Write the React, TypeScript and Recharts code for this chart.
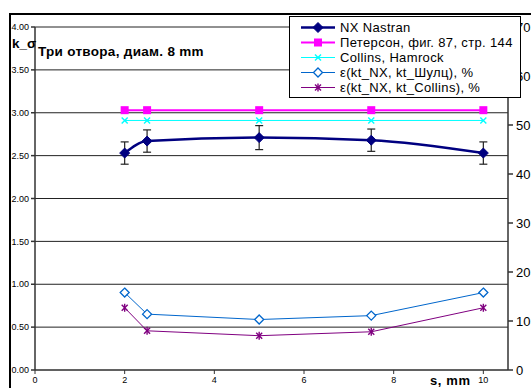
import React from "react";
import {
  ComposedChart,
  Line,
  XAxis,
  YAxis,
  CartesianGrid,
  ErrorBar,
  Legend,
} from "recharts";

// s, mm – hole spacing
const S_MM = [2, 2.5, 5, 7.5, 10];
// k_sigma values (left axis)
const NX_NASTRAN = [2.53, 2.67, 2.71, 2.68, 2.53];
const NX_ERR = [0.13, 0.13, 0.14, 0.13, 0.13];
const PETERSON = [3.03, 3.03, 3.03, 3.03, 3.03];
const COLLINS = [2.91, 2.91, 2.91, 2.91, 2.91];
// errors in % (right axis)
const EPS_SHULTS = [15.8, 11.4, 10.3, 11.1, 15.8];
const EPS_COLLINS = [12.7, 8.0, 7.0, 7.8, 12.7];

const X_TICKS = [0, 2, 4, 6, 8, 10];
const LEFT_TICKS = [0, 0.5, 1, 1.5, 2, 2.5, 3, 3.5, 4];
const RIGHT_TICKS = [0, 10, 20, 30, 40, 50, 60, 70];

const FONT = "'Liberation Sans', Arial, sans-serif";

const C = {
  nx: "#000080",
  pet: "#FF00FF",
  col: "#00FFFF",
  shul: "#0066CC",
  colEps: "#800080",
};

const data = S_MM.map((s, i) => ({
  s,
  nx: NX_NASTRAN[i],
  nxErr: NX_ERR[i],
  pet: PETERSON[i],
  col: COLLINS[i],
  shul: EPS_SHULTS[i],
  colEps: EPS_COLLINS[i],
}));

type Mark = (cx: number, cy: number, key?: string) => React.ReactElement;

const diamond: Mark = (cx, cy, key) => (
  <polygon
    key={key}
    points={`${cx},${cy - 5} ${cx + 5},${cy} ${cx},${cy + 5} ${cx - 5},${cy}`}
    fill={C.nx}
    stroke={C.nx}
  />
);
const square: Mark = (cx, cy, key) => (
  <rect key={key} x={cx - 4} y={cy - 4} width={8} height={8} fill={C.pet} />
);
const cross: Mark = (cx, cy, key) => (
  <g key={key} stroke={C.col} strokeWidth={1.4}>
    <line x1={cx - 3} y1={cy - 3} x2={cx + 3} y2={cy + 3} />
    <line x1={cx - 3} y1={cy + 3} x2={cx + 3} y2={cy - 3} />
  </g>
);
const openDiamond: Mark = (cx, cy, key) => (
  <polygon
    key={key}
    points={`${cx},${cy - 4.5} ${cx + 4.5},${cy} ${cx},${cy + 4.5} ${cx - 4.5},${cy}`}
    fill="#fff"
    stroke={C.shul}
    strokeWidth={1.3}
  />
);
const star: Mark = (cx, cy, key) => (
  <g key={key} stroke={C.colEps} strokeWidth={1.4}>
    <line x1={cx - 3} y1={cy - 3} x2={cx + 3} y2={cy + 3} />
    <line x1={cx - 3} y1={cy + 3} x2={cx + 3} y2={cy - 3} />
    <line x1={cx} y1={cy - 4} x2={cx} y2={cy + 4} />
  </g>
);

const dot = (m: Mark) => (p: any) => m(p.cx, p.cy, `d-${p.index}`);

const LEGEND_ROWS = [
  { label: "NX Nastran", color: C.nx, width: 2.5, mark: diamond },
  { label: "Петерсон, фиг. 87, стр. 144", color: C.pet, width: 2, mark: square },
  { label: "Collins, Hamrock", color: C.col, width: 1, mark: cross },
  { label: "ε(kt_NX, kt_Шулц), %", color: C.shul, width: 1, mark: openDiamond },
  { label: "ε(kt_NX, kt_Collins), %", color: C.colEps, width: 1, mark: star },
];

function LegendBox() {
  return (
    <div
      style={{
        width: 232,
        height: 82,
        border: "1px solid #000",
        background: "#fff",
        fontFamily: FONT,
        fontSize: 13,
        letterSpacing: 0.35,
        paddingTop: 3,
        boxSizing: "border-box",
      }}
    >
      {LEGEND_ROWS.map((r) => (
        <div
          key={r.label}
          style={{ display: "flex", alignItems: "center", height: 15 }}
        >
          <svg width={50} height={15} style={{ flex: "none" }}>
            <line x1={11} y1={7.5} x2={45} y2={7.5} stroke={r.color} strokeWidth={r.width} />
            {r.mark(28, 7.5)}
          </svg>
          <span style={{ whiteSpace: "nowrap" }}>{r.label}</span>
        </div>
      ))}
    </div>
  );
}

export default function App() {
  return (
    <div
      style={{
        position: "absolute",
        left: 0,
        top: 0,
        width: 531,
        height: 388,
        overflow: "hidden",
        background: "#fff",
      }}
    >
      <div
        style={{
          position: "absolute",
          left: 9,
          top: 13,
          width: 600,
          height: 400,
          borderTop: "2px solid #000",
          borderLeft: "2px solid #000",
        }}
      />
      <ComposedChart
        width={531}
        height={388}
        data={data}
        margin={{ top: 27, right: 0, bottom: 0, left: 0 }}
        style={{ position: "absolute", left: 0, top: 0 }}
      >
        <CartesianGrid yAxisId="left" vertical={false} stroke="#222" strokeWidth={1} />
        <XAxis
          dataKey="s"
          type="number"
          domain={[0, 10.55]}
          ticks={X_TICKS}
          height={18}
          tickSize={4}
          tickMargin={3}
          stroke="#333"
          tick={{ fontSize: 9, fill: "#000", fontFamily: FONT }}
        />
        <YAxis
          yAxisId="left"
          width={35}
          domain={[0, 4]}
          ticks={LEFT_TICKS}
          tickFormatter={(v: number) => v.toFixed(2)}
          tickSize={4}
          tickMargin={2}
          stroke="#333"
          strokeWidth={1.5}
          tick={{ fontSize: 9, fill: "#000", fontFamily: FONT }}
        />
        <YAxis
          yAxisId="right"
          orientation="right"
          width={23}
          domain={[0, 70]}
          ticks={RIGHT_TICKS}
          tickSize={5}
          tickMargin={3}
          stroke="#333"
          strokeWidth={1.5}
          tick={{ fontSize: 13, fill: "#000", fontFamily: FONT, textAnchor: "start" }}
        />
        <Legend
          layout="vertical"
          align="center"
          verticalAlign="middle"
          content={() => <LegendBox />}
          wrapperStyle={{ position: "absolute", left: 289, top: 16, width: 232, height: 82 }}
        />
        <Line
          yAxisId="left"
          dataKey="pet"
          stroke={C.pet}
          strokeWidth={2}
          dot={dot(square)}
          isAnimationActive={false}
        />
        <Line
          yAxisId="left"
          dataKey="col"
          stroke={C.col}
          strokeWidth={1}
          dot={dot(cross)}
          isAnimationActive={false}
        />
        <Line
          yAxisId="right"
          dataKey="shul"
          stroke={C.shul}
          strokeWidth={1}
          dot={dot(openDiamond)}
          isAnimationActive={false}
        />
        <Line
          yAxisId="right"
          dataKey="colEps"
          stroke={C.colEps}
          strokeWidth={1}
          dot={dot(star)}
          isAnimationActive={false}
        />
        <Line
          yAxisId="left"
          type="monotone"
          dataKey="nx"
          stroke={C.nx}
          strokeWidth={2.5}
          dot={dot(diamond)}
          isAnimationActive={false}
        >
          <ErrorBar dataKey="nxErr" direction="y" width={4} stroke="#222" strokeWidth={1.2} />
        </Line>
      </ComposedChart>
      <div
        style={{
          position: "absolute",
          left: 12,
          top: 35,
          fontFamily: FONT,
          fontWeight: "bold",
          fontSize: 13.5,
          lineHeight: "17px",
          whiteSpace: "nowrap",
        }}
      >
        k_σ
      </div>
      <div
        style={{
          position: "absolute",
          left: 38,
          top: 43,
          fontFamily: FONT,
          fontWeight: "bold",
          fontSize: 13.5,
          letterSpacing: 0.3,
          lineHeight: "17px",
          whiteSpace: "nowrap",
        }}
      >
        Три отвора, диам. 8 mm
      </div>
      <div
        style={{
          position: "absolute",
          left: 430,
          top: 373,
          fontFamily: FONT,
          fontWeight: "bold",
          fontSize: 13,
          letterSpacing: 0.6,
          lineHeight: "16px",
          whiteSpace: "nowrap",
        }}
      >
        s, mm
      </div>
    </div>
  );
}
